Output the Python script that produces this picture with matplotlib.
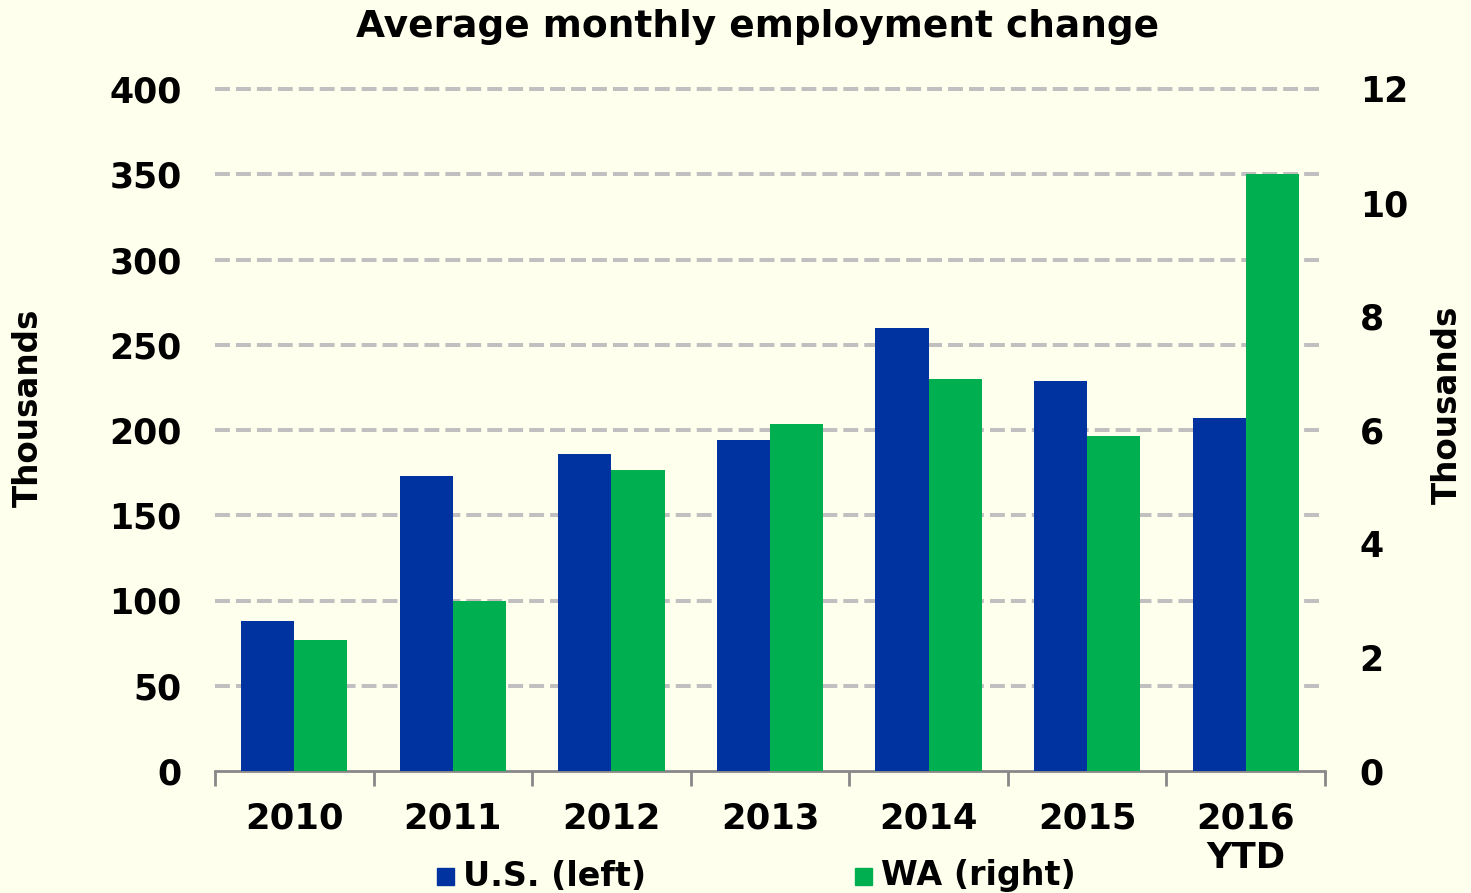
import matplotlib
matplotlib.use("Agg")
import matplotlib.pyplot as plt
import numpy as np

categories = ["2010", "2011", "2012", "2013", "2014", "2015", "2016\nYTD"]
us_values = [88, 173, 186, 194, 260, 229, 207]
wa_values = [2.3, 3.0, 5.3, 6.1, 6.9, 5.9, 10.5]
left_ticks = [0, 50, 100, 150, 200, 250, 300, 350, 400]
right_ticks = [0, 2, 4, 6, 8, 10, 12]

BG = "#FFFFEE"
BLUE = "#0033A0"
GREEN = "#00AF50"
FONT = "DejaVu Sans"
FS = 25

W, H = 1471, 893
fig = plt.figure(figsize=(W / 100, H / 100), dpi=100, facecolor=BG)
ax = fig.add_axes([215 / W, (H - 771) / H, (1325 - 215) / W, (771 - 89) / H])
ax.set_facecolor(BG)
ax2 = ax.twinx()

x = np.arange(len(categories))
bw = 0.335
ax.bar(x - bw / 2, us_values, width=bw, color=BLUE, zorder=3, label="U.S. (left)")
ax2.bar(x + bw / 2, wa_values, width=bw, color=GREEN, zorder=3, label="WA (right)")

ax.set_xlim(-0.5, len(categories) - 0.5)
ax.set_ylim(0, 400)
ax2.set_ylim(0, 12)
ax.set_yticks(left_ticks)
ax2.set_yticks(right_ticks)

for y in left_ticks[1:]:
    ax.axhline(y, color="#C0C0C0", lw=2.9, ls=(0, (3.7, 1.5)), zorder=1, clip_on=False)

for a in (ax, ax2):
    for s in ("top", "left", "right", "bottom"):
        a.spines[s].set_visible(False)
    a.tick_params(axis="y", length=0)

ax.spines["bottom"].set_visible(True)
ax.spines["bottom"].set_color("#888888")
ax.spines["bottom"].set_linewidth(2)

ax.set_xticks(np.arange(len(categories) + 1) - 0.5, minor=True)
ax.set_xticks(x)
ax.set_xticklabels(categories, fontsize=25.5, fontweight="bold", family=FONT, linespacing=1.2)
ax.tick_params(axis="x", which="major", length=0, pad=22)
ax.tick_params(axis="x", which="minor", length=11, width=2, color="#888888", direction="out")
ax2.tick_params(axis="x", length=0)

for lab in ax.get_yticklabels():
    lab.set_fontsize(FS); lab.set_fontweight("bold"); lab.set_family(FONT)
for lab in ax2.get_yticklabels():
    lab.set_fontsize(FS); lab.set_fontweight("bold"); lab.set_family(FONT)
ax.tick_params(axis="y", pad=24)
ax2.tick_params(axis="y", pad=25)

fig.text(28 / W, (H - 408) / H, "Thousands", rotation=90, ha="center", va="center",
         fontsize=23.5, fontweight="bold", family=FONT)
fig.text(1447 / W, (H - 405) / H, "Thousands", rotation=90, ha="center", va="center",
         fontsize=23.5, fontweight="bold", family=FONT)
fig.text(758 / W, (H - 27) / H, "Average monthly employment change", ha="center", va="center",
         fontsize=27, fontweight="bold", family=FONT)

# legend
ly = (H - 876) / H
fig.patches.append(plt.Rectangle((437 / W, (H - 885) / H), 17 / W, 17 / H, color=BLUE,
                                 transform=fig.transFigure, figure=fig))
fig.text(463 / W, ly, "U.S. (left)", ha="left", va="center", fontsize=24, fontweight="bold", family=FONT)
fig.patches.append(plt.Rectangle((855 / W, (H - 885) / H), 17 / W, 17 / H, color=GREEN,
                                 transform=fig.transFigure, figure=fig))
fig.text(881 / W, ly, "WA (right)", ha="left", va="center", fontsize=24, fontweight="bold", family=FONT)

fig.savefig("out.png", dpi=100, facecolor=BG)
